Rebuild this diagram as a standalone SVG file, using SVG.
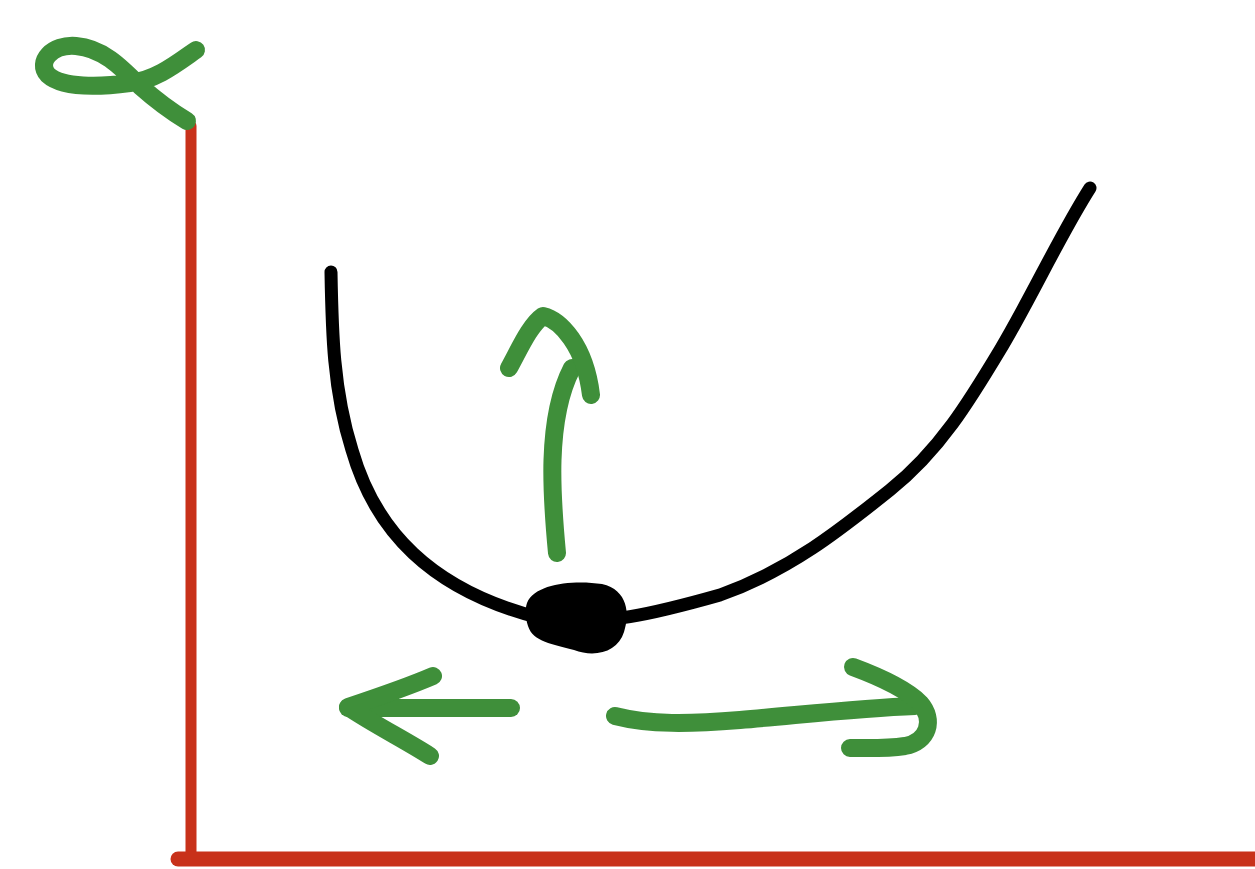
<svg xmlns="http://www.w3.org/2000/svg" width="1255" height="869" viewBox="0 0 1255 869">
<style>
.g{fill:none;stroke:#3f8f3a;stroke-width:18;stroke-linecap:round;stroke-linejoin:round}
.r{fill:none;stroke:#c8311a;stroke-linecap:round}
.k{fill:none;stroke:#000;stroke-width:13;stroke-linecap:round;stroke-linejoin:round}
</style>
<rect width="1255" height="869" fill="#fff"/>
<g id="axes">
<line class="r" x1="191" y1="126" x2="191" y2="858" stroke-width="11"/>
<line class="r" x1="178" y1="859" x2="1262" y2="859" stroke-width="15"/>
</g>
<g id="alpha">
<path class="g" d="M196,50 C176,64 156,80 130,83 C100,87 62,88 48,75 C36,62 52,44 76,46 C102,48 120,66 140,86 C158,102 172,112 187,121"/>
</g>
<g id="curve">
<path class="k" d="M331,272 C332,330 333,390 352,450 C375,530 430,590 540,618 C600,628 660,612 720,595 C790,570 840,530 890,490 C940,450 970,400 1000,350 C1030,300 1060,235 1090,188"/>
</g>
<g id="point">
<path d="M527,603 C535,583 575,580 602,584 C628,590 630,614 624,632 C618,652 595,658 574,650 C553,644 533,642 528,626 C525,616 525,609 527,603 Z" fill="#000"/>
</g>
<g id="arrows">
<path class="g" d="M557,553 C552,500 545,420 572,368"/>
<path class="g" d="M509,368 C520,348 530,325 543,316 C560,320 585,345 591,395"/>
<path class="g" d="M511,708 L348,708"/>
<path class="g" d="M433,676 C405,688 375,698 348,707 C375,725 405,740 430,756"/>
<path class="g" d="M615,716 C650,725 690,724 740,720 C800,715 860,708 915,706"/>
<path class="g" d="M853,667 C880,677 905,688 920,703 C935,720 928,742 905,746 C885,749 865,748 850,748"/>
</g>
</svg>
